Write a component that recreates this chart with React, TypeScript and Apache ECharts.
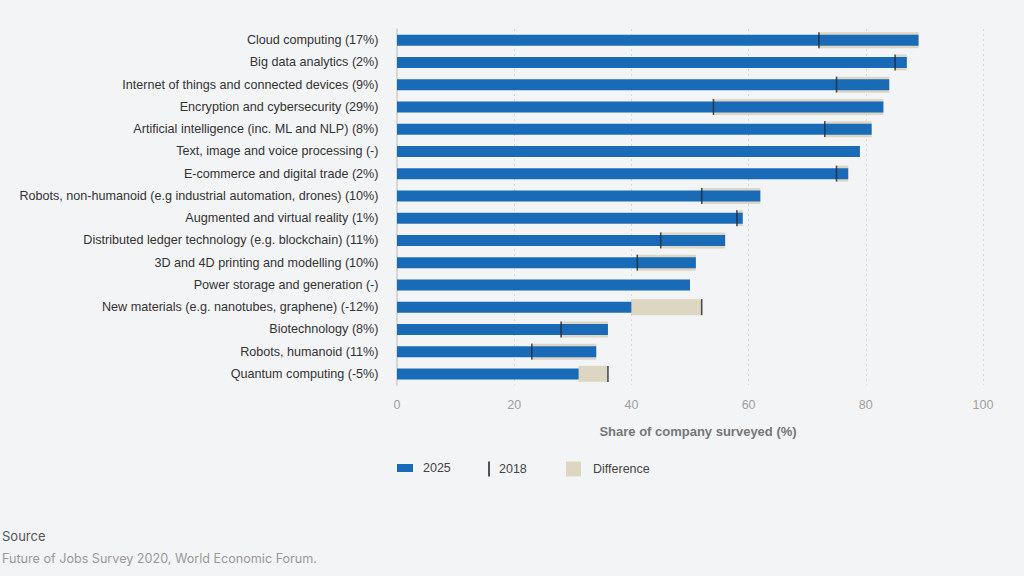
import React, { useEffect, useRef } from "react";
import * as echarts from "echarts";

const categories = [
  "Cloud computing (17%)",
  "Big data analytics (2%)",
  "Internet of things and connected devices (9%)",
  "Encryption and cybersecurity (29%)",
  "Artificial intelligence (inc. ML and NLP) (8%)",
  "Text, image and voice processing (-)",
  "E-commerce and digital trade (2%)",
  "Robots, non-humanoid (e.g industrial automation, drones) (10%)",
  "Augmented and virtual reality (1%)",
  "Distributed ledger technology (e.g. blockchain) (11%)",
  "3D and 4D printing and modelling (10%)",
  "Power storage and generation (-)",
  "New materials (e.g. nanotubes, graphene) (-12%)",
  "Biotechnology (8%)",
  "Robots, humanoid (11%)",
  "Quantum computing (-5%)",
];

const values2025 = [89, 87, 84, 83, 81, 79, 77, 62, 59, 56, 51, 50, 40, 36, 34, 31];
const values2018: (number | null)[] = [72, 85, 75, 54, 73, null, 75, 52, 58, 45, 41, null, 52, 28, 23, 36];

const xTicks = [0, 20, 40, 60, 80, 100];

const BLUE = "#1a6bb7";
const SAND = "#dcd6c3";
const MARK = "#1f2a36";
const FONT = "'Liberation Sans', Arial, sans-serif";

export default function App() {
  const ref = useRef<HTMLDivElement>(null);

  useEffect(() => {
    if (!ref.current) return;
    const chart = echarts.init(ref.current, undefined, { renderer: "svg" });

    const base = values2025.map((v, i) => {
      const o = values2018[i];
      return o == null ? null : Math.min(v, o);
    });
    const diff = values2025.map((v, i) => {
      const o = values2018[i];
      return o == null ? null : Math.abs(v - o);
    });
    const marks = values2018
      .map((o, i) => (o == null ? null : [o, categories[i]]))
      .filter((d) => d !== null);

    const legendText = { color: "#444", fontSize: 12.5, fontFamily: FONT };

    chart.setOption({
      animation: false,
      backgroundColor: "#f3f4f6",
      textStyle: { fontFamily: FONT },
      grid: { left: 397, right: 41, top: 29, bottom: 191, containLabel: false },
      xAxis: {
        type: "value",
        min: 0,
        max: xTicks[xTicks.length - 1],
        interval: 20,
        name: "Share of company surveyed (%)",
        nameLocation: "middle",
        nameGap: 40,
        nameTextStyle: {
          color: "#777",
          fontWeight: "bold",
          fontSize: 13,
          fontFamily: FONT,
          padding: [0, 0, 0, 16],
        },
        axisLine: { show: false },
        axisTick: { show: false },
        axisLabel: { color: "#a0a0a0", fontSize: 12.5, margin: 13, fontFamily: FONT },
        splitLine: { show: true, lineStyle: { color: "#d8d8d8", type: [2, 3], width: 1 } },
      },
      yAxis: [
        {
          type: "category",
          data: categories,
          inverse: true,
          axisLine: { show: true, lineStyle: { color: "#cfcfcf", width: 1.5 } },
          axisTick: { show: false },
          axisLabel: { color: "#333", fontSize: 12.6, margin: 18.5, fontFamily: FONT },
        },
        {
          type: "category",
          data: categories,
          inverse: true,
          show: false,
        },
      ],
      legend: [
        {
          left: 397,
          top: 461.5,
          padding: 0,
          itemWidth: 16,
          itemHeight: 15,
          textStyle: { ...legendText, padding: [0, 0, 0, 5] },
          data: [{ name: "2025", icon: "path://M0,0h16v8h-16z" }],
          selectedMode: false,
        },
        {
          left: 488,
          top: 461.5,
          padding: 0,
          itemWidth: 2,
          itemHeight: 15,
          textStyle: { ...legendText, padding: [0, 0, 0, 4] },
          data: [{ name: "2018", icon: "rect" }],
          selectedMode: false,
        },
        {
          left: 566,
          top: 461.5,
          padding: 0,
          itemWidth: 15,
          itemHeight: 15,
          textStyle: { ...legendText, padding: [0, 0, 0, 7] },
          data: [{ name: "Difference", icon: "rect" }],
          selectedMode: false,
        },
      ],
      title: [
        {
          text: "Source",
          left: 2,
          top: 529,
          padding: 0,
          textStyle: { color: "#555", fontSize: 13, fontWeight: "normal", fontFamily: "Inter, sans-serif" },
        },
        {
          text: "Future of Jobs Survey 2020, World Economic Forum.",
          left: 2,
          top: 552,
          padding: 0,
          textStyle: { color: "#9a9a9a", fontSize: 12.6, fontWeight: "normal", fontFamily: "Inter, sans-serif" },
        },
      ],
      series: [
        {
          name: "base",
          type: "bar",
          stack: "diff",
          yAxisIndex: 0,
          barWidth: 16,
          silent: true,
          itemStyle: { color: "rgba(0,0,0,0)" },
          data: base,
        },
        {
          name: "Difference",
          type: "bar",
          stack: "diff",
          yAxisIndex: 0,
          barWidth: 16,
          silent: true,
          itemStyle: { color: SAND },
          data: diff,
        },
        {
          name: "2025",
          type: "bar",
          yAxisIndex: 1,
          barWidth: 11,
          silent: true,
          itemStyle: { color: BLUE },
          data: values2025,
          z: 3,
        },
        {
          name: "2018",
          type: "scatter",
          yAxisIndex: 0,
          symbol: "rect",
          symbolSize: [1.6, 16],
          silent: true,
          itemStyle: { color: MARK },
          data: marks,
          z: 4,
        },
      ],
    });

    return () => chart.dispose();
  }, []);

  return (
    <div
      ref={ref}
      style={{ position: "fixed", left: 0, top: 0, width: 1024, height: 576 }}
    />
  );
}
